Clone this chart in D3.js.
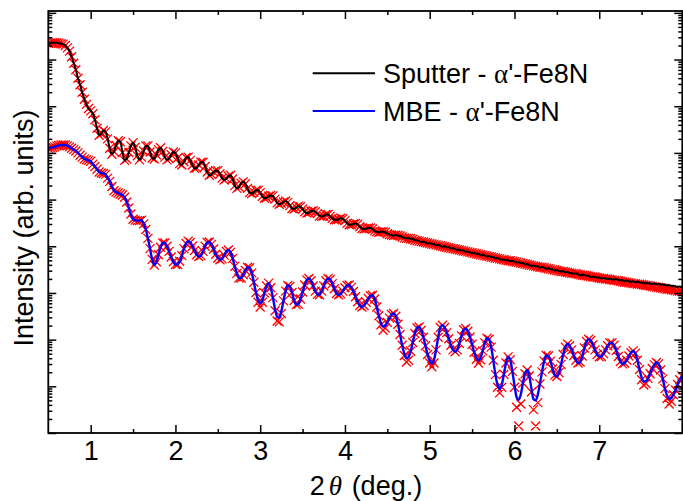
<!DOCTYPE html>
<html>
<head>
<meta charset="utf-8">
<script src="https://cdn.jsdelivr.net/npm/d3@7"></script>
<style>
  html, body { margin: 0; padding: 0; background: #fff; }
  svg { display: block; font-family: "Liberation Sans", Arial, sans-serif; }
</style>
</head>
<body>
<svg id="chart" width="683" height="501"></svg>
<script>
// X-ray reflectivity scans of two α'-Fe8N films (log10 of intensity, arb. units)
const scanStart = 0.5, scanStep = 0.025, scanPoints = 300;
const twoTheta = d3.range(scanPoints).map(i => +(scanStart + i * scanStep).toFixed(3));

// Sputtered film, measured
const sputterLog = [
  8.35,8.35,8.36,8.36,8.36,8.35,8.34,8.33,8.30,8.25,
  8.18,8.06,7.92,7.78,7.60,7.46,7.30,7.15,7.04,6.95,
  6.90,6.84,6.71,6.53,6.38,6.41,6.48,6.45,6.30,6.10,
  5.97,6.03,6.16,6.26,6.24,6.01,5.84,5.87,6.01,6.15,
  6.22,6.12,5.94,5.85,5.91,6.04,6.15,6.15,6.02,5.89,
  5.87,5.96,6.07,6.11,6.03,5.91,5.85,5.88,5.96,6.02,
  6.00,5.89,5.77,5.74,5.81,5.90,5.91,5.84,5.74,5.67,
  5.68,5.74,5.80,5.80,5.71,5.59,5.52,5.54,5.59,5.62,
  5.62,5.55,5.46,5.42,5.45,5.50,5.52,5.44,5.30,5.24,
  5.27,5.35,5.38,5.34,5.24,5.15,5.13,5.16,5.20,5.20,
  5.15,5.07,5.03,5.04,5.07,5.09,5.08,5.01,4.93,4.90,
  4.92,4.95,4.97,4.94,4.87,4.81,4.80,4.83,4.86,4.85,
  4.80,4.74,4.71,4.72,4.75,4.76,4.74,4.70,4.65,4.64,
  4.65,4.68,4.68,4.64,4.60,4.57,4.57,4.58,4.60,4.59,
  4.55,4.49,4.46,4.46,4.48,4.49,4.47,4.42,4.38,4.37,
  4.38,4.39,4.39,4.37,4.33,4.31,4.30,4.31,4.31,4.30,
  4.27,4.25,4.24,4.23,4.24,4.23,4.22,4.20,4.18,4.17,
  4.17,4.16,4.16,4.13,4.13,4.11,4.09,4.10,4.08,4.06,
  4.07,4.05,4.05,4.02,4.03,4.01,3.99,4.00,3.98,3.98,
  3.95,3.96,3.94,3.92,3.93,3.91,3.91,3.88,3.89,3.87,
  3.85,3.86,3.84,3.84,3.81,3.82,3.80,3.78,3.79,3.77,
  3.77,3.74,3.75,3.73,3.71,3.72,3.70,3.70,3.68,3.69,
  3.67,3.65,3.66,3.64,3.64,3.61,3.62,3.60,3.58,3.59,
  3.57,3.57,3.54,3.56,3.54,3.52,3.53,3.51,3.51,3.48,
  3.49,3.47,3.46,3.47,3.44,3.45,3.43,3.43,3.41,3.42,
  3.40,3.38,3.39,3.38,3.37,3.37,3.34,3.35,3.34,3.33,
  3.33,3.31,3.32,3.31,3.30,3.31,3.29,3.29,3.30,3.28,
  3.27,3.27,3.25,3.27,3.25,3.24,3.25,3.23,3.24,3.23,
  3.22,3.22,3.20,3.22,3.20,3.19,3.21,3.18,3.20,3.18,
  3.18,3.17,3.16,3.17,3.15,3.15,3.14,3.13,3.14,3.12
];

// Sputtered film, simulated
const sputterFitLog = [
  8.35,8.35,8.36,8.36,8.36,8.35,8.34,8.33,8.30,8.25,
  8.18,8.06,7.92,7.78,7.60,7.46,7.30,7.15,7.04,6.95,
  6.90,6.84,6.71,6.53,6.38,6.41,6.48,6.45,6.30,6.10,
  5.97,6.03,6.16,6.26,6.24,6.01,5.84,5.87,6.01,6.15,
  6.22,6.12,5.94,5.85,5.91,6.04,6.15,6.15,6.02,5.89,
  5.87,5.96,6.07,6.11,6.03,5.91,5.85,5.88,5.96,6.02,
  6.00,5.89,5.77,5.74,5.81,5.90,5.91,5.84,5.74,5.67,
  5.68,5.74,5.80,5.80,5.71,5.59,5.52,5.54,5.59,5.62,
  5.62,5.55,5.46,5.42,5.45,5.50,5.52,5.44,5.30,5.24,
  5.27,5.35,5.38,5.34,5.24,5.15,5.13,5.16,5.20,5.20,
  5.15,5.07,5.03,5.04,5.07,5.09,5.08,5.01,4.93,4.90,
  4.92,4.95,4.97,4.94,4.87,4.81,4.80,4.83,4.86,4.85,
  4.80,4.74,4.71,4.72,4.75,4.76,4.74,4.70,4.65,4.64,
  4.65,4.68,4.68,4.64,4.60,4.57,4.57,4.58,4.60,4.59,
  4.55,4.49,4.46,4.46,4.48,4.49,4.47,4.42,4.38,4.37,
  4.38,4.39,4.39,4.37,4.33,4.31,4.30,4.31,4.31,4.30,
  4.27,4.25,4.24,4.23,4.24,4.23,4.22,4.20,4.18,4.17,
  4.17,4.16,4.15,4.13,4.12,4.11,4.10,4.09,4.08,4.07,
  4.06,4.05,4.04,4.03,4.02,4.01,4.00,3.99,3.98,3.97,
  3.96,3.95,3.94,3.93,3.92,3.91,3.90,3.89,3.88,3.87,
  3.86,3.85,3.84,3.83,3.82,3.81,3.80,3.79,3.78,3.77,
  3.76,3.75,3.74,3.73,3.72,3.71,3.70,3.69,3.69,3.68,
  3.67,3.66,3.65,3.64,3.63,3.62,3.61,3.60,3.59,3.58,
  3.57,3.56,3.55,3.55,3.54,3.53,3.52,3.51,3.50,3.49,
  3.48,3.47,3.46,3.46,3.45,3.44,3.43,3.42,3.42,3.41,
  3.40,3.39,3.38,3.38,3.37,3.36,3.35,3.34,3.34,3.33,
  3.32,3.31,3.31,3.30,3.30,3.29,3.28,3.27,3.27,3.26,
  3.25,3.24,3.23,3.23,3.22,3.21,3.20,3.20,3.19,3.19,
  3.18,3.17,3.16,3.16,3.15,3.14,3.13,3.12,3.12,3.11,
  3.10,3.09,3.08,3.08,3.07,3.06,3.05,3.04,3.04,3.03
];

// MBE film, measured
const mbeLog = [
  6.10,6.11,6.12,6.13,6.15,6.16,6.17,6.17,6.17,6.15,
  6.13,6.10,6.07,6.04,6.00,5.95,5.91,5.87,5.85,5.84,
  5.82,5.76,5.71,5.65,5.59,5.57,5.56,5.54,5.46,5.39,
  5.28,5.19,5.16,5.14,5.12,5.10,5.05,4.95,4.82,4.69,
  4.58,4.56,4.55,4.55,4.56,4.48,4.36,4.17,3.95,3.72,
  3.60,3.67,3.82,3.98,4.07,4.07,4.00,3.89,3.77,3.67,
  3.61,3.61,3.68,3.80,3.95,4.06,4.11,4.08,4.00,3.91,
  3.82,3.78,3.80,3.89,4.00,4.08,4.09,4.04,3.94,3.83,
  3.75,3.71,3.73,3.81,3.89,3.92,3.87,3.74,3.57,3.42,
  3.32,3.32,3.39,3.48,3.55,3.54,3.43,3.23,3.01,2.84,
  2.78,2.84,3.00,3.15,3.21,3.11,2.90,2.65,2.49,2.47,
  2.61,2.83,3.04,3.16,3.14,3.01,2.84,2.75,2.76,2.87,
  3.02,3.17,3.28,3.31,3.26,3.15,3.04,2.97,2.96,3.04,
  3.15,3.26,3.31,3.29,3.20,3.09,2.99,2.96,2.98,3.04,
  3.11,3.16,3.17,3.12,3.03,2.92,2.81,2.73,2.70,2.73,
  2.80,2.88,2.94,2.95,2.87,2.70,2.51,2.35,2.28,2.30,
  2.37,2.46,2.54,2.56,2.50,2.33,2.11,1.88,1.70,1.60,
  1.63,1.75,1.94,2.13,2.25,2.27,2.20,2.05,1.87,1.68,
  1.55,1.49,1.56,1.78,2.05,2.26,2.31,2.26,2.15,2.02,
  1.88,1.78,1.74,1.78,1.92,2.08,2.21,2.24,2.18,2.05,
  1.90,1.73,1.61,1.56,1.61,1.76,1.93,2.03,2.01,1.84,
  1.56,1.25,1.03,0.94,1.03,1.26,1.50,1.63,1.57,1.32,
  1.02,0.77,0.71,0.83,1.07,1.27,1.35,1.22,0.95,0.72,
  0.70,0.82,1.05,1.31,1.54,1.66,1.65,1.54,1.37,1.24,
  1.21,1.29,1.47,1.68,1.84,1.91,1.87,1.78,1.66,1.56,
  1.50,1.52,1.65,1.82,1.96,2.01,1.98,1.89,1.78,1.68,
  1.63,1.64,1.70,1.78,1.87,1.93,1.93,1.88,1.77,1.64,
  1.53,1.48,1.50,1.56,1.65,1.72,1.76,1.71,1.56,1.36,
  1.19,1.10,1.11,1.17,1.27,1.38,1.46,1.51,1.48,1.35,
  1.16,0.95,0.80,0.73,0.75,0.82,0.92,1.04,1.14,1.22
];

// MBE film, simulated
const mbeFitLog = [
  6.10,6.11,6.12,6.13,6.15,6.16,6.17,6.17,6.17,6.15,
  6.13,6.10,6.07,6.04,6.00,5.95,5.91,5.87,5.85,5.84,
  5.82,5.76,5.71,5.65,5.59,5.57,5.56,5.54,5.46,5.39,
  5.28,5.19,5.16,5.14,5.12,5.10,5.05,4.95,4.82,4.69,
  4.58,4.56,4.55,4.55,4.56,4.48,4.36,4.17,3.95,3.72,
  3.60,3.67,3.82,3.98,4.07,4.07,4.00,3.89,3.77,3.67,
  3.61,3.61,3.68,3.80,3.95,4.06,4.11,4.08,4.00,3.91,
  3.82,3.78,3.80,3.89,4.00,4.08,4.09,4.04,3.94,3.83,
  3.75,3.71,3.73,3.81,3.89,3.92,3.87,3.74,3.57,3.42,
  3.32,3.32,3.39,3.48,3.55,3.54,3.43,3.23,3.01,2.80,
  2.70,2.80,3.00,3.15,3.21,3.11,2.90,2.62,2.40,2.38,
  2.56,2.83,3.04,3.16,3.14,3.01,2.84,2.75,2.76,2.87,
  3.02,3.17,3.28,3.31,3.26,3.15,3.04,2.97,2.96,3.04,
  3.15,3.26,3.31,3.29,3.20,3.09,2.99,2.96,2.98,3.04,
  3.11,3.16,3.17,3.12,3.03,2.92,2.81,2.73,2.70,2.73,
  2.80,2.88,2.94,2.95,2.87,2.70,2.51,2.32,2.20,2.25,
  2.37,2.46,2.54,2.56,2.50,2.33,2.11,1.88,1.66,1.52,
  1.56,1.75,1.94,2.13,2.25,2.27,2.20,2.05,1.87,1.68,
  1.50,1.42,1.50,1.78,2.05,2.26,2.31,2.26,2.15,2.02,
  1.88,1.78,1.74,1.78,1.92,2.08,2.21,2.24,2.18,2.05,
  1.90,1.73,1.58,1.50,1.57,1.76,1.93,2.03,2.01,1.84,
  1.56,1.25,0.98,0.86,0.98,1.26,1.50,1.63,1.57,1.32,
  0.98,0.55,0.15,0.62,1.07,1.27,1.35,1.22,0.88,0.50,
  0.15,0.65,1.05,1.31,1.54,1.66,1.65,1.54,1.37,1.24,
  1.21,1.29,1.47,1.68,1.84,1.91,1.87,1.78,1.66,1.56,
  1.50,1.52,1.65,1.82,1.96,2.01,1.98,1.89,1.78,1.68,
  1.63,1.64,1.70,1.78,1.87,1.93,1.93,1.88,1.77,1.64,
  1.53,1.48,1.50,1.56,1.65,1.72,1.76,1.71,1.56,1.36,
  1.14,1.03,1.06,1.17,1.27,1.38,1.46,1.51,1.48,1.35,
  1.16,0.95,0.74,0.62,0.68,0.82,0.92,1.04,1.14,1.22
];

const xMajorTicks = [1, 2, 3, 4, 5, 6, 7];
const xMinorTicks = [1.5, 2.5, 3.5, 4.5, 5.5, 6.5, 7.5];
const decades = d3.range(0, 10);            // 10^0 … 10^9
const legendEntries = [
  { name: "Sputter", color: "#000000" },
  { name: "MBE", color: "#0000ff" }
];
const phaseName = ["α", "'-Fe8N"];

// ---------------------------------------------------------------
const svg = d3.select("#chart");
const frame = { left: 48.3, right: 682.3, top: 11, bottom: 433 };

const x = d3.scaleLinear().domain([0.5, 7.98]).range([frame.left, frame.right]);
const y = d3.scaleLog().domain([1, Math.pow(10, 9.04)]).range([frame.bottom, frame.top]);

const pts = logs => twoTheta.map((t, i) => [t, Math.pow(10, logs[i])]);

svg.append("defs").append("clipPath").attr("id", "plotClip")
  .append("rect")
  .attr("x", frame.left).attr("y", frame.top)
  .attr("width", frame.right - frame.left).attr("height", frame.bottom - frame.top);

const plot = svg.append("g").attr("clip-path", "url(#plotClip)");

// simulated curves as red crosses
const half = 4.5;
function crossPath(data) {
  return data.map(([t, v]) => {
    const cx = x(t), cy = y(v);
    return `M${cx - half},${cy - half}L${cx + half},${cy + half}M${cx - half},${cy + half}L${cx + half},${cy - half}`;
  }).join("");
}
[sputterFitLog, mbeFitLog].forEach(series => {
  plot.append("path")
    .attr("d", crossPath(pts(series)))
    .attr("fill", "none")
    .attr("stroke", "#ff0000")
    .attr("stroke-width", 1.3);
});

// measured curves
const line = d3.line().x(d => x(d[0])).y(d => y(d[1])).curve(d3.curveMonotoneX);
plot.append("path").datum(pts(mbeLog))
  .attr("d", line).attr("fill", "none")
  .attr("stroke", "#0000ff").attr("stroke-width", 2.4);
plot.append("path").datum(pts(sputterLog))
  .attr("d", line).attr("fill", "none")
  .attr("stroke", "#000000").attr("stroke-width", 2);

// axes with inward ticks on all four sides
const majorY = decades.map(p => Math.pow(10, p));
const minorY = [];
decades.forEach(p => d3.range(2, 10).forEach(m => {
  const v = m * Math.pow(10, p);
  if (v <= y.domain()[1]) minorY.push(v);
}));

function styleAxis(g) {
  g.select(".domain").remove();
  g.selectAll(".tick line").attr("stroke", "#000").attr("stroke-width", 1.5);
  g.selectAll(".tick text")
    .attr("fill", "#000")
    .style("font-family", "'Liberation Sans', Arial, sans-serif")
    .style("font-size", "27px");
}

svg.append("g").attr("transform", `translate(0,${frame.bottom})`)
  .call(d3.axisBottom(x).tickValues(xMajorTicks).tickSize(-8).tickSizeOuter(0)
    .tickPadding(8).tickFormat(d3.format("d")))
  .call(styleAxis);
svg.append("g").attr("transform", `translate(0,${frame.bottom})`)
  .call(d3.axisBottom(x).tickValues(xMinorTicks).tickSize(-4).tickSizeOuter(0).tickFormat(""))
  .call(styleAxis);
svg.append("g").attr("transform", `translate(0,${frame.top})`)
  .call(d3.axisTop(x).tickValues(xMajorTicks).tickSize(-8).tickSizeOuter(0).tickFormat(""))
  .call(styleAxis);
svg.append("g").attr("transform", `translate(0,${frame.top})`)
  .call(d3.axisTop(x).tickValues(xMinorTicks).tickSize(-4).tickSizeOuter(0).tickFormat(""))
  .call(styleAxis);

[[d3.axisLeft, frame.left], [d3.axisRight, frame.right]].forEach(([axisFn, pos]) => {
  svg.append("g").attr("transform", `translate(${pos},0)`)
    .call(axisFn(y).tickValues(majorY).tickSize(-8).tickSizeOuter(0).tickFormat(""))
    .call(styleAxis);
  svg.append("g").attr("transform", `translate(${pos},0)`)
    .call(axisFn(y).tickValues(minorY).tickSize(-4).tickSizeOuter(0).tickFormat(""))
    .call(styleAxis);
});

svg.append("rect")
  .attr("x", frame.left).attr("y", frame.top)
  .attr("width", frame.right - frame.left).attr("height", frame.bottom - frame.top)
  .attr("fill", "none").attr("stroke", "#000").attr("stroke-width", 1.8);

// axis titles
const xTitle = svg.append("text")
  .attr("x", 366).attr("y", 495)
  .attr("text-anchor", "middle")
  .style("font-size", "27px").attr("fill", "#000");
xTitle.append("tspan").text("2");
xTitle.append("tspan")
  .style("font-family", "'Liberation Serif', 'Times New Roman', serif")
  .style("font-style", "italic").attr("dx", 4).text("θ");
xTitle.append("tspan").attr("dx", 2).text(" (deg.)");

svg.append("text")
  .attr("transform", "translate(33,228) rotate(-90)")
  .attr("text-anchor", "middle")
  .style("font-size", "27px").attr("fill", "#000")
  .text("Intensity (arb. units)");

// legend
const legend = svg.append("g");
legendEntries.forEach((e, i) => {
  const cy = 73.3 + i * 37.7;
  legend.append("line")
    .attr("x1", 312.7).attr("x2", 375).attr("y1", cy).attr("y2", cy)
    .attr("stroke", e.color).attr("stroke-width", 2);
  const t = legend.append("text")
    .attr("x", 383).attr("y", cy + 9.7)
    .style("font-size", "27px").attr("fill", "#000");
  t.append("tspan").text(e.name + " - ");
  t.append("tspan")
    .style("font-family", "'Liberation Serif', 'Times New Roman', serif")
    .text(phaseName[0]);
  t.append("tspan").text(phaseName[1]);
});
</script>
</body>
</html>
